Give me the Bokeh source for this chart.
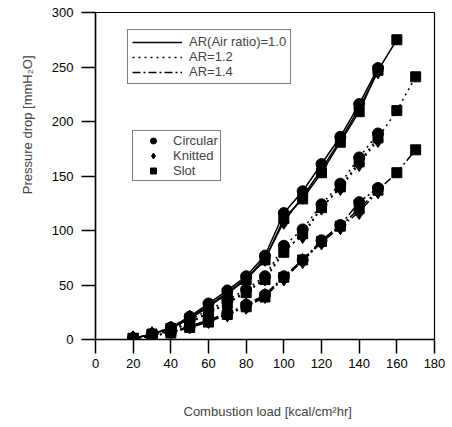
from bokeh.plotting import figure
from bokeh.models import Legend, LegendItem, Title, Range1d, FixedTicker
from bokeh.embed import file_html
from bokeh.resources import INLINE

# Combustion load [kcal/cm^2 hr]
load = [20, 30, 40, 50, 60, 70, 80, 90, 100, 110, 120, 130, 140, 150, 160, 170]

# Pressure drop [mmH2O]  -- AR = 1.0
circ_10 = [1, 5, 11, 21, 33, 45, 58, 77, 116, 136, 161, 186, 216, 249]
knit_10 = [1, 5, 10, 20, 31, 43, 56, 74, 108, 131, 156, 183, 212, 246]
slot_10 = [1, 5, 10, 19, 30, 42, 55, 73, 111, 129, 153, 181, 209, 247, 275]
# AR = 1.2
circ_12 = [1, 4, 9, 18, 27, 36, 46, 58, 86, 101, 124, 143, 167, 189]
knit_12 = [1, 4, 8, 16, 25, 34, 44, 56, 82, 95, 121, 139, 161, 183]
slot_12 = [1, 4, 8, 15, 24, 33, 43, 55, 80, 97, 121, 140, 163, 185, 210, 241]
# AR = 1.4
circ_14 = [1, 3, 7, 12, 18, 24, 32, 41, 58, 73, 91, 105, 126, 139]
knit_14 = [1, 3, 7, 12, 17, 23, 30, 40, 56, 72, 89, 103, 117, 136]
slot_14 = [1, 3, 6, 11, 16, 23, 30, 39, 57, 73, 90, 104, 120, 137, 153, 174]

ar_labels = ["AR(Air ratio)=1.0", "AR=1.2", "AR=1.4"]
shape_labels = ["Circular", "Knitted", "Slot"]
x_ticks = [0, 20, 40, 60, 80, 100, 120, 140, 160, 180]
y_ticks = [0, 50, 100, 150, 200, 250, 300]

series = [
    ("1.0", "Circular", circ_10), ("1.0", "Knitted", knit_10), ("1.0", "Slot", slot_10),
    ("1.2", "Circular", circ_12), ("1.2", "Knitted", knit_12), ("1.2", "Slot", slot_12),
    ("1.4", "Circular", circ_14), ("1.4", "Knitted", knit_14), ("1.4", "Slot", slot_14),
]
dash = {"1.0": "solid", "1.2": "2 4", "1.4": "8 3 2 3"}
marker = {"Circular": ("circle", 11), "Knitted": ("diamond", 15), "Slot": ("square", 10)}

FONT = "Liberation Sans"

p = figure(width=452, height=427, output_backend="svg", toolbar_location=None,
           x_range=Range1d(0, 180), y_range=Range1d(0, 300),
           min_border_left=95, min_border_right=18, min_border_top=12, min_border_bottom=87)
p.title.visible = False

line_r = {}
mark_r = {}
for ar, shape, vals in series:
    xs = load[:len(vals)]
    lr = p.line(xs, vals, line_color="black", line_width=1.5, line_dash=dash[ar])
    line_r.setdefault(ar, lr)
    m, s = marker[shape]
    mr = p.scatter(xs, vals, marker=m, size=s, fill_color="black", line_color="black")
    mark_r.setdefault(shape, mr)

p.xgrid.visible = False
p.ygrid.visible = False
p.outline_line_color = "black"
p.outline_line_width = 1.2

for ax in (p.xaxis[0], p.yaxis[0]):
    ax.axis_line_width = 1.5
    ax.major_tick_line_width = 1.5
    ax.major_tick_out = 14
    ax.major_tick_in = 0
    ax.minor_tick_line_color = None
    ax.major_label_text_font = FONT
    ax.major_label_text_font_size = "13px"
    ax.major_label_text_color = "black"
p.xaxis[0].ticker = FixedTicker(ticks=x_ticks)
p.yaxis[0].ticker = FixedTicker(ticks=y_ticks)
p.xaxis[0].major_label_standoff = 5
p.yaxis[0].major_label_standoff = 8
# blank spacer label that only reserves room between the tick labels and the axis title
p.xaxis[0].axis_label = " "
p.xaxis[0].axis_label_standoff = 5
p.xaxis[0].axis_label_text_font_size = "13px"

tx = Title(text="Combustion load [kcal/cm²hr]", align="left", offset=88,
           text_font=FONT, text_font_size="13px", text_font_style="normal", standoff=17)
p.add_layout(tx, "below")
ty = Title(text="Pressure drop [mmH₂O]", align="right", offset=43,
           text_font=FONT, text_font_size="13px", text_font_style="normal", standoff=28)
p.add_layout(ty, "left")

def style_legend(lg):
    lg.border_line_color = "black"
    lg.border_line_width = 1
    lg.background_fill_alpha = 1
    lg.label_text_font = FONT
    lg.label_text_font_size = "13px"
    lg.margin = 0
    lg.spacing = 0

leg1 = Legend(items=[LegendItem(label=ar_labels[i], renderers=[line_r[k]]) for i, k in enumerate(["1.0", "1.2", "1.4"])],
              location=(32, 255))
style_legend(leg1)
leg1.padding = 4
leg1.glyph_width = 50
leg1.glyph_height = 14
leg1.label_height = 14
leg1.label_standoff = 7
p.add_layout(leg1)

leg2 = Legend(items=[LegendItem(label=s, renderers=[mark_r[s]]) for s in shape_labels],
              location=(37, 158))
style_legend(leg2)
leg2.padding = 2
leg2.glyph_width = 36
leg2.glyph_height = 15
leg2.label_height = 14
leg2.label_standoff = 2
p.add_layout(leg2)

open("out.html", "w").write(file_html(p, INLINE))
